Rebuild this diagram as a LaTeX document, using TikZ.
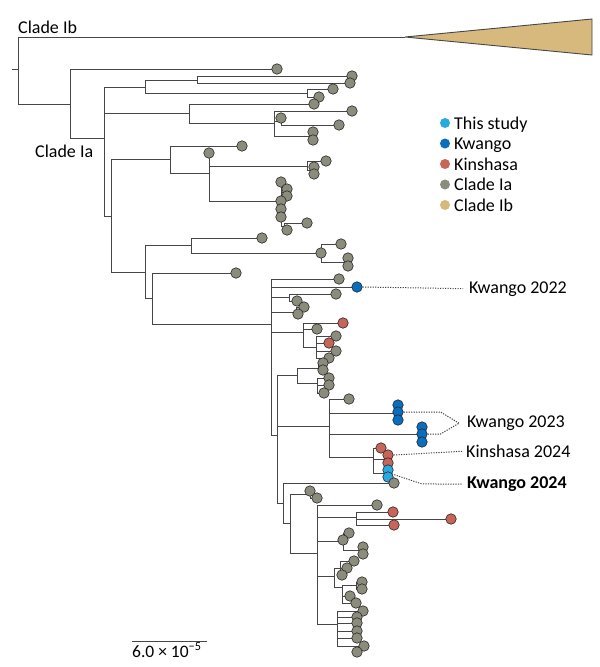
\documentclass[tikz,border=0pt]{standalone}
\usepackage{fontspec}
\setmainfont{Carlito}
\usetikzlibrary{backgrounds}

\definecolor{grayIa}{RGB}{140,140,125}
\definecolor{redKi}{RGB}{200,100,88}
\definecolor{blueKw}{RGB}{10,110,190}
\definecolor{blueSt}{RGB}{40,170,225}
\definecolor{tanIb}{RGB}{215,185,125}
\definecolor{linegray}{RGB}{70,70,70}

\begin{document}
\begin{tikzpicture}[x=1pt,y=-1pt,
  branch/.style={draw=linegray,line width=1pt},
  tip/.style={circle,draw=black!85,line width=0.6pt,fill=#1,inner sep=0pt,minimum size=10.5pt},
  dot/.style={circle,fill=#1,inner sep=0pt,minimum size=10pt},
  lead/.style={dash pattern=on 1.2pt off 1.3pt,draw=black!75,line width=1pt},
  lab/.style={anchor=base west,inner sep=0pt,font=\fontsize{18}{20}\selectfont}]

\useasboundingbox (0,0) rectangle (600,667);

% internal nodes of the tree
\coordinate (r0) at (12,69);
\coordinate (r) at (18,69);
\coordinate (ib) at (405,37);
\coordinate (n70) at (70,104);
\coordinate (n104) at (104,138);
\coordinate (n145) at (145,87);
\coordinate (n197) at (197,80);
\coordinate (n307) at (307,93);
\coordinate (n189) at (189,113);
\coordinate (n274) at (274,123);
\coordinate (n281a) at (281,121);
\coordinate (n311) at (311,136);
\coordinate (n111) at (111,216);
\coordinate (n170) at (170,159);
\coordinate (n209) at (209,173);
\coordinate (n307b) at (307,166);
\coordinate (n312) at (312,170);
\coordinate (n281) at (281,201);
\coordinate (n283s) at (283,192);
\coordinate (n284) at (284,226);
\coordinate (n145b) at (145,272);
\coordinate (n191) at (191,245);
\coordinate (n321) at (321,253);
\coordinate (n346) at (346,262);
\coordinate (n152) at (152,298);
\coordinate (n271) at (271,324);
\coordinate (n289) at (289,297);
\coordinate (n296) at (296,312);
\coordinate (n303) at (303,332);
\coordinate (n316) at (316,347);
\coordinate (n277) at (277,435);
\coordinate (n297) at (297,375);
\coordinate (n318) at (318,368);
\coordinate (n317b) at (317,383);
\coordinate (n329) at (329,426);
\coordinate (n396) at (396,413);
\coordinate (n419) at (419,434);
\coordinate (n373) at (373,457);
\coordinate (n386) at (386,459);
\coordinate (n386b) at (386,473);
\coordinate (n283) at (283,503);
\coordinate (n290) at (290,523);
\coordinate (n310) at (310,494);
\coordinate (n317) at (317,553);
\coordinate (n356) at (356,517);
\coordinate (n343) at (343,541);
\coordinate (n360) at (360,550);
\coordinate (n334) at (334,576);
\coordinate (n340) at (340,568);
\coordinate (n342) at (342,587);
\coordinate (n356b) at (356,585);
\coordinate (n337) at (337,624);
\coordinate (n357) at (357,646);

% tips
\foreach \n/\x/\y/\c in {a1/277/69/grayIa, a2/352/76/grayIa, a3/350/83/grayIa,
  a4/333/89/grayIa, a5/319/97/grayIa, a6/314/104/grayIa, a7/352/111/grayIa,
  a8/281/118/grayIa, a9/339/125/grayIa, a10/313/132/grayIa, a11/313/140/grayIa,
  a12/242/146/grayIa, a13/209/153/grayIa, a14/326/161/grayIa, a15/314/167/grayIa,
  a16/314/174/grayIa, a17/281/182/grayIa, a18/287/189/grayIa, a19/287/196/grayIa,
  a20/281/201/grayIa, a21/281/209/grayIa, a22/281/217/grayIa, a23/307/223/grayIa,
  a24/287/230/grayIa, a25/262/238/grayIa, a26/341/244/grayIa, a27/321/253/grayIa,
  a28/348/258/grayIa, a29/348/266/grayIa, a30/236/273/grayIa, a31/339/279/grayIa,
  k1/357/287/blueKw, a32/336/294/grayIa, a33/297/301/grayIa, a34/304/307/grayIa,
  a35/298/314/grayIa, s1/343/323/redKi, a36/317/329/grayIa, a37/336/336/grayIa,
  s2/329/343/redKi, a38/336/351/grayIa, a39/329/358/grayIa, a40/323/363/grayIa,
  a41/323/370/grayIa, a42/329/378/grayIa, a43/329/385/grayIa, a44/324/393/grayIa,
  a45/349/399/grayIa, k2/398/405/blueKw, k3/398/412/blueKw, k4/398/420/blueKw,
  k5/422/427/blueKw, k6/422/434/blueKw, k7/422/442/blueKw, s3/381/448/redKi,
  s4/388/455/redKi, s5/388/463/redKi, h1/388/470/blueSt, h2/388/477/blueSt,
  a46/394/483/grayIa, a47/310/491/grayIa, a48/317/498/grayIa, a49/377/505/grayIa,
  s6/393/512/redKi, s7/451/519/redKi, s8/394/525/redKi, a50/349/533/grayIa,
  a51/343/540/grayIa, a52/363/547/grayIa, a53/363/554/grayIa, a54/354/561/grayIa,
  a55/347/568/grayIa, a56/342/575/grayIa, a57/362/582/grayIa, a58/362/589/grayIa,
  a59/350/596/grayIa, a60/356/603/grayIa, a61/363/611/grayIa, a62/357/617/grayIa,
  a63/357/623/grayIa, a64/357/631/grayIa, a65/357/638/grayIa, a66/364/646/grayIa,
  a67/357/652/grayIa}
  \node[tip=\c] (\n) at (\x,\y) {};

\begin{scope}[on background layer]
\fill[white] (0,0) rectangle (600,667);
\draw[branch] (r0) -- (r);
\foreach \p/\c in {r/ib, r/n70, n70/a1, n70/n104,
  n104/n145, n104/n189, n104/n111, n145/n197, n145/n307,
  n197/a2, n197/a3, n307/a4, n307/a5, n189/a6, n189/n274,
  n274/a7, n274/n281a, n274/n311, n281a/a8, n281a/a9, n311/a10, n311/a11,
  n111/n170, n111/n145b, n170/a12, n170/n209,
  n209/a13, n209/n307b, n209/n281, n307b/a14, n307b/n312, n312/a15, n312/a16,
  n281/a17, n281/n283s, n281/a20, n281/a21, n281/a22, n281/n284,
  n283s/a18, n283s/a19, n284/a23, n284/a24,
  n145b/n191, n145b/n152, n191/a25, n191/n321,
  n321/a26, n321/a27, n321/n346, n346/a28, n346/a29,
  n152/a30, n152/n271,
  n271/a31, n271/k1, n271/n289, n271/n296, n271/n303, n271/n277,
  n289/a32, n289/a33, n296/a34, n296/a35,
  n303/s1, n303/a36, n303/n316, n316/a37, n316/s2, n316/a38, n316/a39,
  n277/n297, n277/n329, n277/n283,
  n297/n318, n297/n317b, n318/a40, n318/a41, n317b/a42, n317b/a43, n317b/a44,
  n329/a45, n329/n396, n329/n419, n329/n373,
  n396/k2, n396/k3, n396/k4, n419/k5, n419/k6, n419/k7,
  n373/s3, n373/n386, n373/n386b, n386/s4, n386/s5, n386b/h1, n386b/h2,
  n283/a46, n283/n290, n290/n310, n290/n317, n310/a47, n310/a48,
  n317/a49, n317/n356, n317/n343, n317/n334, n317/n337,
  n356/s6, n356/s7, n356/s8,
  n343/a50, n343/a51, n343/n360, n360/a52, n360/a53,
  n334/n340, n334/n342, n340/a54, n340/a55, n340/a56,
  n342/n356b, n342/a59, n342/a60, n356b/a57, n356b/a58,
  n337/a61, n337/a62, n337/a63, n337/a64, n337/a65, n337/n357,
  n357/a66, n357/a67}
  \draw[branch] (\p) |- (\c.center);
\end{scope}

% collapsed clade Ib
\draw[draw=linegray,line width=0.9pt,fill=tanIb] (ib) -- (592,19) -- (592,55) -- cycle;

\node[lab] (cladeIb) at (18,33) {Clade Ib};
\node[lab] (cladeIa) at (35,157) {Clade Ia};

% legend
\foreach \i/\c/\t in {0/blueSt/This study, 1/blueKw/Kwango, 2/redKi/Kinshasa,
  3/grayIa/Clade Ia, 4/tanIb/Clade Ib} {
  \node[dot=\c] (key\i) at (445,123+20.5*\i) {};
  \node[lab] (keytext\i) at (454,129+20.5*\i) {\t};
}

% outbreak labels
\node[lab] (kw22) at (469,293) {Kwango 2022};
\node[lab] (kw23) at (467,427.5) {Kwango 2023};
\node[lab] (ki24) at (466,457.5) {Kinshasa 2024};
\node[lab,font=\fontsize{18}{20}\selectfont\bfseries] (kw24) at (467,488.5) {Kwango 2024};

\draw[lead] (k1.east) -- ([xshift=-6pt]kw22.west);
\draw[lead] (k3.east) -- ++(37,0) -- ([xshift=-8pt]kw23.west);
\draw[lead] (k6.east) -- ++(13,0) -- ([xshift=-8pt]kw23.west);
\draw[lead] (s4.east) -- ([xshift=-4pt]ki24.west);
\draw[lead] (h1.south east) -- ++(30,10) -- ([xshift=-5pt]kw24.west);

% scale bar
\coordinate (sb0) at (132,641);
\coordinate (sb1) at (207,641);
\draw[draw=linegray,line width=1pt] (sb0) -- (sb1);
\node[lab,font=\fontsize{17.5}{20}\selectfont] (sbtext) at (132,657) {6.0 × 10\textsuperscript{−5}};

\end{tikzpicture}
\end{document}
